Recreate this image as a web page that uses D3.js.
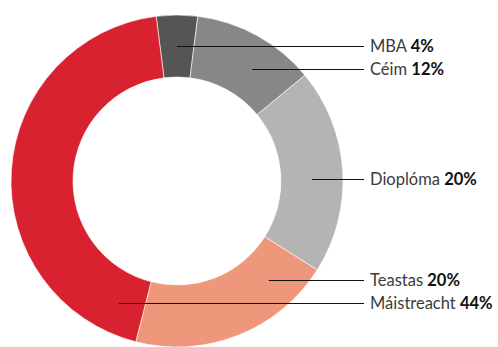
<!DOCTYPE html>
<html>
<head>
<meta charset="utf-8">
<script src="https://cdn.jsdelivr.net/npm/d3@7"></script>
<style>
  html, body { margin: 0; padding: 0; background: #fff; }
  svg { display: block; }
</style>
</head>
<body>
<svg id="chart" width="498" height="347"></svg>
<script>
// Qualification breakdown
const categories = ["MBA", "Céim", "Dioplóma", "Teastas", "Máistreacht"];
const shares = [4, 12, 20, 20, 44];
const sliceColors = ["#555555", "#878787", "#b4b4b4", "#ee977a", "#d9222f"];

const W = 498, H = 347;
const cx = 177, cy = 181;
const rOuter = 166, rInner = 104;
const rMid = (rOuter + rInner) / 2;

// label rows (vertical offset from the centre of the ring)
const labelOffsets = [-135, -112, -2, 99, 122];
const lineEndX = 364, labelX = 370;

const svg = d3.select("#chart");
const g = svg.append("g").attr("transform", `translate(${cx},${cy})`);

const data = categories.map((c, i) => ({ name: c, value: shares[i], color: sliceColors[i] }));

// MBA slice is centred on the top of the ring
const startAngle = -(shares[0] / 2) / 100 * 2 * Math.PI;
const pie = d3.pie()
  .value(d => d.value)
  .sort(null)
  .startAngle(startAngle)
  .endAngle(startAngle + 2 * Math.PI);

const arc = d3.arc().innerRadius(rInner).outerRadius(rOuter);
const arcs = pie(data);

g.selectAll("path.slice")
  .data(arcs)
  .join("path")
  .attr("class", "slice")
  .attr("d", arc)
  .attr("fill", d => d.data.color)
  .attr("stroke", "#fff")
  .attr("stroke-width", 0.6);

// leader lines: start on the mid-radius circle at the label's height
const lines = svg.append("g");
arcs.forEach((a, i) => {
  const dy = labelOffsets[i];
  const mid = (a.startAngle + a.endAngle) / 2;
  const side = Math.sin(mid) >= 0 ? 1 : -1;
  const dx = side * Math.sqrt(Math.max(0, rMid * rMid - dy * dy));
  const y = Math.round(cy + dy) + 0.5;
  lines.append("line")
    .attr("x1", cx + dx).attr("x2", lineEndX)
    .attr("y1", y).attr("y2", y)
    .attr("stroke", "#111")
    .attr("stroke-width", 1);

  const t = svg.append("text")
    .attr("x", labelX)
    .attr("y", y)
    .attr("dy", "0.36em")
    .style("font-family", "Lato, 'Open Sans', sans-serif")
    .style("font-size", "16.5px");
  t.append("tspan").attr("fill", "#3c3c3c").text(a.data.name + " ");
  t.append("tspan").attr("fill", "#111").attr("font-weight", "bold").text(a.data.value + "%");
});
</script>
</body>
</html>
